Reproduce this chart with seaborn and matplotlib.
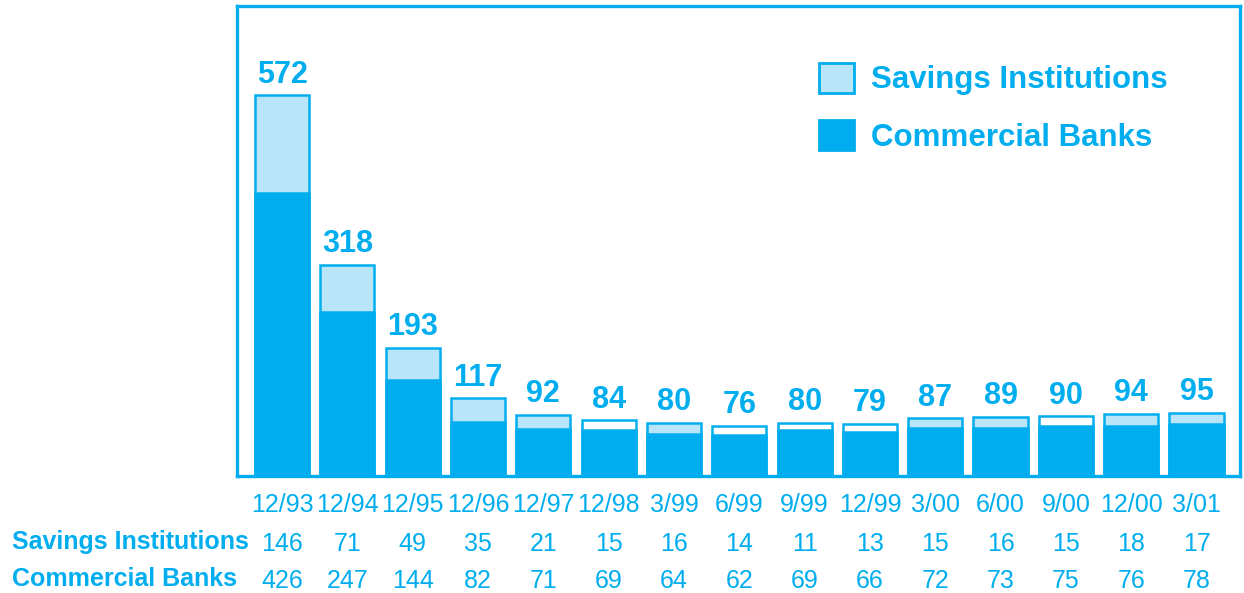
import pandas as pd
import matplotlib.pyplot as plt
import seaborn as sns
from matplotlib.patches import Patch

# data
periods = ['12/93', '12/94', '12/95', '12/96', '12/97', '12/98', '3/99', '6/99',
           '9/99', '12/99', '3/00', '6/00', '9/00', '12/00', '3/01']
savings = [146, 71, 49, 35, 21, 15, 16, 14, 11, 13, 15, 16, 15, 18, 17]
commercial = [426, 247, 144, 82, 71, 69, 64, 62, 69, 66, 72, 73, 75, 76, 78]
totals = [572, 318, 193, 117, 92, 84, 80, 76, 80, 79, 87, 89, 90, 94, 95]

CYAN = '#00AEEF'
LIGHT = '#B9E5F8'
# the original leaves some savings segments unfilled
savings_fill = [LIGHT, LIGHT, LIGHT, LIGHT, LIGHT, 'white', LIGHT, 'white',
                'white', 'white', LIGHT, LIGHT, 'white', LIGHT, LIGHT]

df = pd.DataFrame({'period': periods, 'savings': savings,
                   'commercial': commercial})
df['total'] = df['savings'] + df['commercial']

sns.set_style('white')
plt.rcParams['font.family'] = ['Liberation Sans', 'DejaVu Sans']

fig = plt.figure(figsize=(12.44, 5.93), dpi=100)
ax = fig.add_axes([0.1905, 0.197, 0.806, 0.7925])

sns.barplot(data=df, x='period', y='total', color=LIGHT, width=0.83,
            edgecolor=CYAN, linewidth=1.8, saturation=1, ax=ax)
for p, fc in zip(ax.patches, savings_fill):
    p.set_facecolor(fc)
top_container = ax.containers[0]

sns.barplot(data=df, x='period', y='commercial', color=CYAN, width=0.83,
            edgecolor=CYAN, linewidth=1.8, saturation=1, ax=ax)

ax.bar_label(top_container, labels=[str(t) for t in totals], padding=4,
             fontsize=22, fontweight='bold', color=CYAN)

ax.set_xlim(-0.69, 14.66)
ax.set_ylim(0, 706)
ax.set_yticks([])
ax.set_xlabel('')
ax.set_ylabel('')
ax.tick_params(axis='x', length=0, pad=12, labelsize=18, labelcolor=CYAN)
for s in ax.spines.values():
    s.set_visible(True)
    s.set_color(CYAN)
    s.set_linewidth(2.4)

# table rows under the axis
tr = ax.get_xaxis_transform()
for i in range(len(periods)):
    ax.text(i, -0.144, str(savings[i]), transform=tr, ha='center', va='center',
            fontsize=18, color=CYAN)
    ax.text(i, -0.223, str(commercial[i]), transform=tr, ha='center', va='center',
            fontsize=18, color=CYAN)
fig.text(0.0096, 1 - 542 / 593, 'Savings Institutions', ha='left', va='center',
         fontsize=18, fontweight='bold', color=CYAN)
fig.text(0.0096, 1 - 579 / 593, 'Commercial Banks', ha='left', va='center',
         fontsize=18, fontweight='bold', color=CYAN)

handles = [Patch(facecolor=LIGHT, edgecolor=CYAN, linewidth=2),
           Patch(facecolor=CYAN, edgecolor=CYAN, linewidth=2)]
ax.legend(handles, ['Savings Institutions', 'Commercial Banks'],
          loc='upper left', bbox_to_anchor=(0.552, 0.94), frameon=False,
          handlelength=1.12, handleheight=1.12, handletextpad=0.55,
          labelspacing=0.78, labelcolor=CYAN,
          prop={'weight': 'bold', 'size': 22.5})

fig.savefig('out.png', dpi=100)
